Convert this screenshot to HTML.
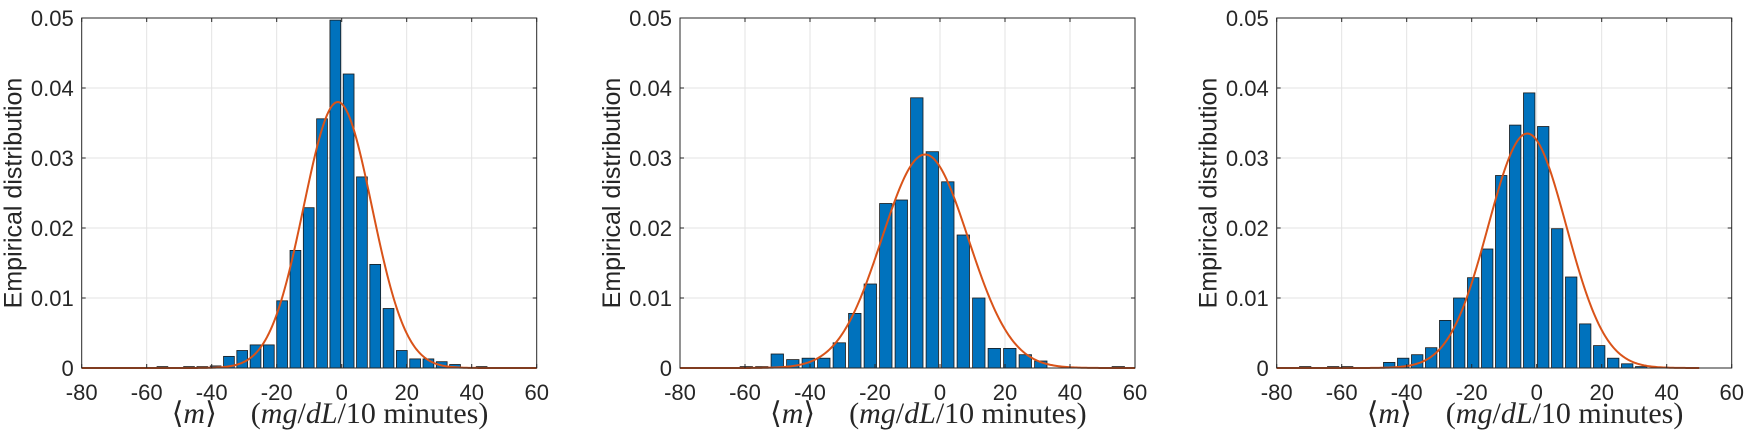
<!DOCTYPE html>
<html><head><meta charset="utf-8"><style>
html,body{margin:0;padding:0;background:#fff;}
svg{display:block}
text{font-family:"Liberation Sans",sans-serif;fill:#262626}
</style></head><body>
<svg id="s" width="1750" height="434" viewBox="0 0 1750 434" xmlns="http://www.w3.org/2000/svg"></svg>
<script>
var P=[
 {L:81.7,c0:335.33,st:13.3,w:10.8,k0:-13,h:[0.0002,0,0.0002,0.0002,0.0003,0.00166,0.0025,0.0033,0.0033,0.0096,0.0168,0.0229,0.0356,0.0497,0.042,0.0273,0.0148,0.0085,0.0025,0.0013,0.0013,0.0009,0.0005,0,0.0002],mu:-1.2,sg:10.5,A:0.038,xe:60},
 {L:680,c0:916.8,st:15.5,w:12.4,k0:-11,h:[0.0002,0.0002,0.002,0.0012,0.0014,0.0014,0.0036,0.0078,0.012,0.0235,0.024,0.0386,0.0309,0.0266,0.019,0.01,0.0028,0.0028,0.0019,0.001,0,0,0,0,0.0002],mu:-4.6,sg:13.3,A:0.0305,xe:60},
 {L:1276.7,c0:1529.2,st:14,w:11.4,k0:-16,h:[0.0002,0,0.0002,0.0002,0,0,0.0008,0.0014,0.0019,0.0029,0.0068,0.01,0.0129,0.017,0.0275,0.0347,0.0393,0.0345,0.0199,0.013,0.0063,0.0032,0.0014,0.0006,0.0002],mu:-2.9,sg:12,A:0.0335,xe:50}
];
var T=18,B=368,W=455,s='';
P.forEach(function(p){
 var L=p.L,R=L+W;
 for(var i=1;i<7;i++){var x=L+i*65;s+='<line x1="'+x+'" y1="'+T+'" x2="'+x+'" y2="'+B+'" stroke="#e3e3e3" stroke-width="1"/>';}
 for(var j=1;j<5;j++){var y=B-j*70;s+='<line x1="'+L+'" y1="'+y+'" x2="'+R+'" y2="'+y+'" stroke="#e3e3e3" stroke-width="1"/>';}
 p.h.forEach(function(v,i){if(v<=0)return;var c=p.c0+(p.k0+i)*p.st;var hh=v*7000;
  s+='<rect x="'+(c-p.w/2).toFixed(2)+'" y="'+(B-hh).toFixed(2)+'" width="'+p.w+'" height="'+hh.toFixed(2)+'" fill="#0072BD" stroke="#1a1a1a" stroke-width="0.8"/>';});
 var d='';for(var u=-80;u<=p.xe;u+=0.5){var v=p.A*Math.exp(-Math.pow(u-p.mu,2)/(2*p.sg*p.sg));var x=L+(u+80)*3.25,y=B-v*7000;d+=(d?'L':'M')+x.toFixed(2)+' '+y.toFixed(2);}
 s+='<path d="'+d+'" fill="none" stroke="#D95319" stroke-width="2"/>';
 s+='<rect x="'+L+'" y="'+T+'" width="'+W+'" height="'+(B-T)+'" fill="none" stroke="#262626" stroke-width="1"/>';
 for(var i=0;i<=7;i++){var x=L+i*65;s+='<line x1="'+x+'" y1="'+B+'" x2="'+x+'" y2="'+(B-4)+'" stroke="#262626"/><line x1="'+x+'" y1="'+T+'" x2="'+x+'" y2="'+(T+4)+'" stroke="#262626"/>';
  s+='<text x="'+x+'" y="400" font-size="22" text-anchor="middle">'+(-80+i*20)+'</text>';}
 var yl=['0','0.01','0.02','0.03','0.04','0.05'];
 for(var j=0;j<=5;j++){var y=B-j*70;s+='<line x1="'+L+'" y1="'+y+'" x2="'+(L+4)+'" y2="'+y+'" stroke="#262626"/><line x1="'+R+'" y1="'+y+'" x2="'+(R-4)+'" y2="'+y+'" stroke="#262626"/>';
  s+='<text x="'+(L-8)+'" y="'+(y+8)+'" font-size="22" text-anchor="end">'+yl[j]+'</text>';}
 var yx=L-68;
 s+='<text transform="translate('+(yx+8)+',193) rotate(-90)" font-size="25" text-anchor="middle">Empirical distribution</text>';
 s+='<text x="'+(L+90)+'" y="423" font-size="30" style="font-family:\'Liberation Serif\',serif" fill="#262626">⟨<tspan font-style="italic">m</tspan>⟩<tspan dx="34">(</tspan><tspan font-style="italic">mg</tspan>/<tspan font-style="italic">dL</tspan>/10 minutes)</text>';
});
document.getElementById('s').innerHTML=s;
</script>
</body></html>
